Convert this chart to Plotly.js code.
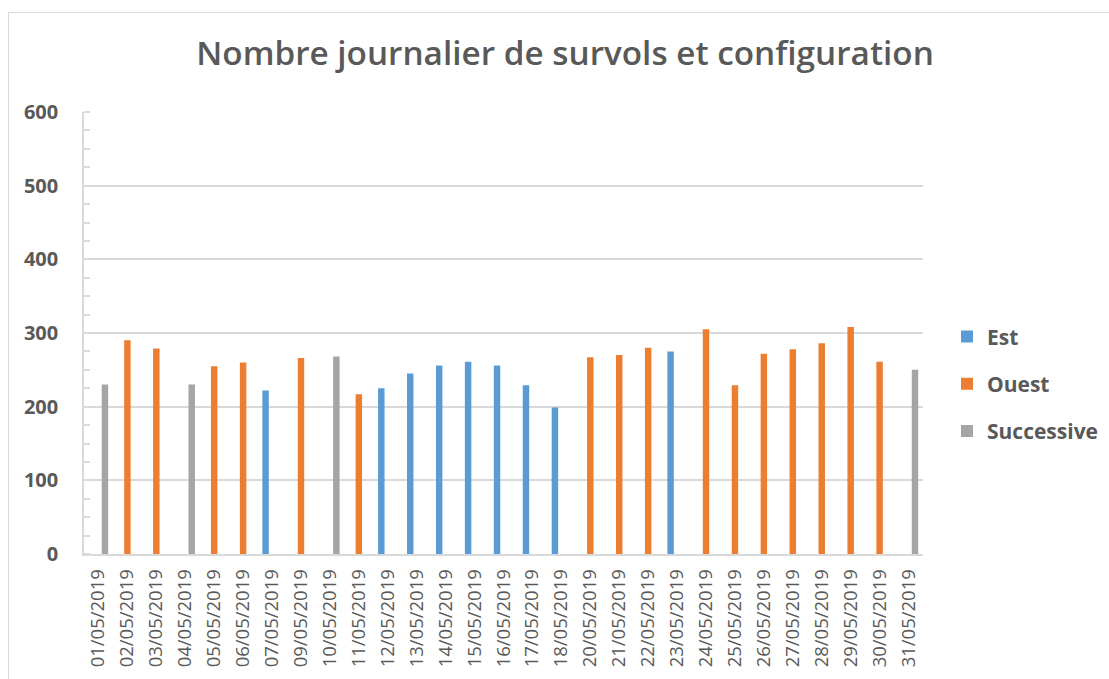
<!DOCTYPE html>
<html>
<head>
<meta charset="utf-8">
<script src="https://cdn.plot.ly/plotly-3.0.1.min.js"></script>
<style>
  html, body { margin: 0; padding: 0; background: #ffffff; }
  #wrap { position: relative; width: 1109px; height: 679px; overflow: hidden; }
  #chart { width: 1109px; height: 679px; }
  #frame { position: absolute; left: 8px; top: 12px; width: 1120px; height: 700px;
           border: 1px solid #d9d9d9; pointer-events: none; box-sizing: border-box; }
</style>
</head>
<body>
<div id="wrap">
  <div id="chart"></div>
  <div id="frame"></div>
</div>
<script>
const dates = ["01/05/2019","02/05/2019","03/05/2019","04/05/2019","05/05/2019","06/05/2019","07/05/2019",
  "09/05/2019","10/05/2019","11/05/2019","12/05/2019","13/05/2019","14/05/2019","15/05/2019","16/05/2019",
  "17/05/2019","18/05/2019","20/05/2019","21/05/2019","22/05/2019","23/05/2019","24/05/2019","25/05/2019",
  "26/05/2019","27/05/2019","28/05/2019","29/05/2019","30/05/2019","31/05/2019"];

const est = [null,null,null,null,null,null,222,null,null,null,225,245,256,261,256,229,199,null,null,null,275,
  null,null,null,null,null,null,null,null];
const ouest = [null,290,279,null,255,260,null,266,null,217,null,null,null,null,null,null,null,267,270,280,null,
  305,229,272,278,286,308,261,null];
const successive = [230,null,null,230,null,null,null,null,268,null,null,null,null,null,null,null,null,null,null,null,null,
  null,null,null,null,null,null,null,250];

const seriesNames = ["Est","Ouest","Successive"];
const seriesColors = ["#5B9BD5","#ED7D31","#A5A5A5"];
const seriesValues = [est, ouest, successive];

const yTickVals = [0,100,200,300,400,500,600];

const traces = seriesValues.map((vals, i) => ({
  type: "bar",
  name: seriesNames[i],
  x: dates,
  y: vals,
  legendgroup: "g" + i,
  marker: { color: seriesColors[i], line: { width: 0 } },
  hoverinfo: "x+y+name"
}));

const font = "'Open Sans', 'Liberation Sans', sans-serif";

const layout = {
  width: 1109,
  height: 679,
  paper_bgcolor: "#ffffff",
  plot_bgcolor: "#ffffff",
  margin: { l: 84, r: 186, t: 112, b: 125, pad: 0, autoexpand: false },
  barmode: "group",
  bargap: 0.33,
  bargroupgap: 0,
  title: {
    text: "Nombre journalier de survols et configuration",
    font: { family: font, size: 33.3, color: "#595959", weight: 600 },
    x: 0.5095, xref: "container", xanchor: "center",
    y: 0.922, yref: "container", yanchor: "middle"
  },
  xaxis: {
    type: "category",
    categoryorder: "array",
    categoryarray: dates,
    tickangle: -90,
    tickfont: { family: font, size: 18.5, color: "#595959" },
    showgrid: false,
    showline: true,
    linecolor: "#d9d9d9",
    linewidth: 1.5,
    ticks: "",
    ticklabelstandoff: 6,
    zeroline: false,
    automargin: false,
    fixedrange: true
  },
  yaxis: {
    range: [0, 600],
    tickvals: yTickVals,
    ticktext: yTickVals.map(String),
    tickfont: { family: font, size: 20, color: "#595959", weight: "bold" },
    showgrid: true,
    gridcolor: "#d9d9d9",
    gridwidth: 1.5,
    showline: true,
    linecolor: "#d9d9d9",
    linewidth: 1.5,
    zeroline: false,
    ticks: "",
    ticklabelstandoff: 20,
    minor: { dtick: 25, ticks: "inside", ticklen: 6, tickcolor: "#d9d9d9", tickwidth: 1.5, showgrid: false },
    automargin: false,
    fixedrange: true
  },
  showlegend: true,
  legend: {
    x: 1.0286, xref: "paper", xanchor: "left",
    y: 0.385, yanchor: "middle",
    font: { family: font, size: 21, color: "#595959", weight: "bold" },
    traceorder: "grouped",
    tracegroupgap: 17,
    bgcolor: "rgba(0,0,0,0)",
    borderwidth: 0
  },
  hovermode: "closest"
};

Plotly.newPlot("chart", traces, layout, { displayModeBar: false, staticPlot: false });
</script>
</body>
</html>
